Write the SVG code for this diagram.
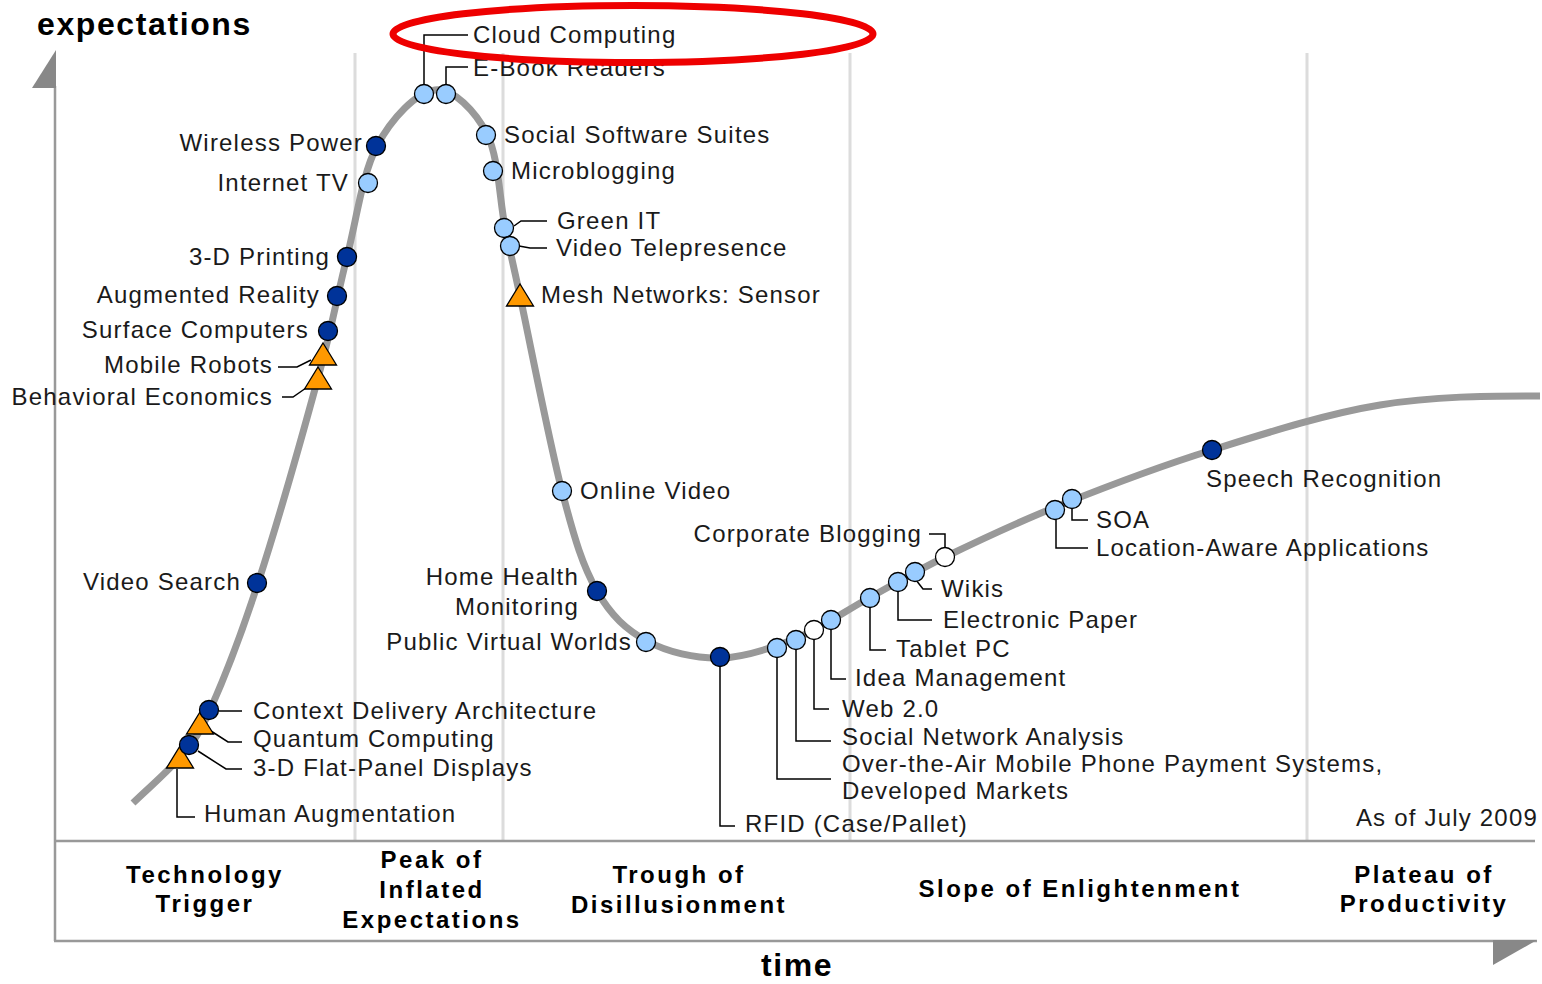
<svg xmlns="http://www.w3.org/2000/svg" xmlns:xlink="http://www.w3.org/1999/xlink" width="1542" height="984" viewBox="0 0 1542 984">
<style>
.lbl{font-family:"Liberation Sans",Arial,sans-serif;font-size:24px;letter-spacing:1.2px;fill:#1a1a1a}
.end{text-anchor:end}
.phase{font-family:"Liberation Sans",Arial,sans-serif;font-weight:bold;font-size:24px;letter-spacing:2.5px;text-anchor:middle;fill:#000}
.axlbl{font-family:"Liberation Sans",Arial,sans-serif;font-weight:bold;font-size:32px;letter-spacing:1.6px;fill:#000}
.dk{fill:#003399;stroke:#000;stroke-width:1.3}
.lt{fill:#99ccff;stroke:#000;stroke-width:1.3}
.wt{fill:#fff;stroke:#000;stroke-width:1.3}
.tri{fill:#ff9900;stroke:#000;stroke-width:1.3}
.ld{fill:none;stroke:#000;stroke-width:1.5}
.grid{stroke:#dcdcdc;stroke-width:3}
.axis{stroke:#999;stroke-width:2.5;fill:none}
</style>
<defs>
<path id="tri" d="M0,-12 L13.5,10 L-13.5,10 Z"/>
</defs>
<rect width="1542" height="984" fill="#fff"/>
<g id="frame">
<line class="grid" x1="355" y1="53" x2="355" y2="840"/>
<line class="grid" x1="503" y1="53" x2="503" y2="840"/>
<line class="grid" x1="850" y1="53" x2="850" y2="840"/>
<line class="grid" x1="1307" y1="53" x2="1307" y2="840"/>
<line class="axis" x1="55" y1="86" x2="55" y2="941"/>
<line class="axis" x1="55" y1="841" x2="1535" y2="841"/>
<line class="axis" x1="54" y1="941" x2="1537" y2="941"/>
<polygon points="32,88 56,50 56,88" fill="#888"/>
<polygon points="1493,940 1537,940 1493,965" fill="#888"/>
<text class="axlbl" x="37" y="35">expectations</text>
<text class="axlbl" x="797" y="976" text-anchor="middle">time</text>
</g>
<g id="phases">
<text class="phase" x="205" y="883">Technology</text>
<text class="phase" x="205" y="912">Trigger</text>
<text class="phase" x="432" y="868">Peak of</text>
<text class="phase" x="432" y="898">Inflated</text>
<text class="phase" x="432" y="928">Expectations</text>
<text class="phase" x="679" y="883">Trough of</text>
<text class="phase" x="679" y="913">Disillusionment</text>
<text class="phase" x="1080" y="897">Slope of Enlightenment</text>
<text class="phase" x="1424" y="883">Plateau of</text>
<text class="phase" x="1424" y="912">Productivity</text>
<text class="lbl end" x="1538" y="826">As of July 2009</text>
</g>
<g id="curve">
<path d="M133,803 C148.7,787.7 167.2,772.5 180,757 C192.8,741.5 197,739 210,710 C223,681 240,638.3 258,583 C276,527.7 303.2,432.3 318,378 C332.8,323.7 337.2,295.7 347,257 C356.8,218.3 362.3,173.8 377,146 C391.7,118.2 416.7,92 435,90 C453.3,88 475.3,111.2 487,134 C498.7,156.8 499.5,200 505,227 C510.5,254 510.5,252 520,296 C529.5,340 549.2,441.8 562,491 C574.8,540.2 582.8,566 597,591 C611.2,616 626.5,629.8 647,641 C667.5,652.2 695,658.5 720,658 C745,657.5 772.2,648 797,638 C821.8,628 844.3,611.5 869,598 C893.7,584.5 912.7,572.7 945,557 C977.3,541.3 1018.5,521.8 1063,504 C1107.5,486.2 1159.2,466.5 1212,450 C1264.8,433.5 1325.3,414 1380,405 C1434.7,396 1486.7,396 1540,396" fill="none" stroke="#999" stroke-width="7" stroke-linecap="butt"/>
</g>
<g id="connectors">
<polyline class="ld" points="424,85 424,35 468,35"/>
<polyline class="ld" points="446,85 446,67 468,67"/>
<polyline class="ld" points="514,226 521,221 547,221"/>
<polyline class="ld" points="519,246 530,248 547,248"/>
<polyline class="ld" points="278,367 297,367 311,360"/>
<polyline class="ld" points="282,397 293,397 306,388"/>
<polyline class="ld" points="219,711 242,711"/>
<polyline class="ld" points="211,731 228,742 242,742"/>
<polyline class="ld" points="198,751 226,769 242,769"/>
<polyline class="ld" points="177,769 177,817 195,817"/>
<polyline class="ld" points="720,667 720,826 735,826"/>
<polyline class="ld" points="777,657 777,779 831,779"/>
<polyline class="ld" points="796,649 796,741 831,741"/>
<polyline class="ld" points="814,639 814,709 829,709"/>
<polyline class="ld" points="831,629 831,679 846,679"/>
<polyline class="ld" points="870,607 870,650 886,650"/>
<polyline class="ld" points="898,591 898,620 932,620"/>
<polyline class="ld" points="916,580 923,589 932,589"/>
<polyline class="ld" points="929,534 945,534 945,548"/>
<polyline class="ld" points="1072,508 1072,520 1088,520"/>
<polyline class="ld" points="1056,519 1056,548 1088,548"/>
</g>
<g id="n-human-augmentation"><use href="#tri" class="tri" x="180" y="758"/><text class="lbl" x="204" y="822">Human Augmentation</text></g>
<g id="n-quantum-computing"><use href="#tri" class="tri" x="200" y="724"/><text class="lbl" x="253" y="747">Quantum Computing</text></g>
<g id="n-behavioral-economics"><use href="#tri" class="tri" x="318" y="379"/><text class="lbl end" x="273" y="405">Behavioral Economics</text></g>
<g id="n-mobile-robots"><use href="#tri" class="tri" x="323" y="355"/><text class="lbl end" x="273" y="373">Mobile Robots</text></g>
<g id="n-mesh-networks"><use href="#tri" class="tri" x="520" y="296"/><text class="lbl" x="541" y="303">Mesh Networks: Sensor</text></g>
<g id="n-3d-flat-panel"><circle class="dk" cx="189" cy="745" r="9.5"/><text class="lbl" x="253" y="776">3-D Flat-Panel Displays</text></g>
<g id="n-context-delivery"><circle class="dk" cx="209" cy="710" r="9.5"/><text class="lbl" x="253" y="719">Context Delivery Architecture</text></g>
<g id="n-video-search"><circle class="dk" cx="257" cy="583" r="9.5"/><text class="lbl end" x="241" y="590">Video Search</text></g>
<g id="n-surface-computers"><circle class="dk" cx="328" cy="331" r="9.5"/><text class="lbl end" x="309" y="338">Surface Computers</text></g>
<g id="n-augmented-reality"><circle class="dk" cx="337" cy="296" r="9.5"/><text class="lbl end" x="320" y="303">Augmented Reality</text></g>
<g id="n-3d-printing"><circle class="dk" cx="347" cy="257" r="9.5"/><text class="lbl end" x="330" y="265">3-D Printing</text></g>
<g id="n-internet-tv"><circle class="lt" cx="368" cy="183" r="9.5"/><text class="lbl end" x="349" y="191">Internet TV</text></g>
<g id="n-wireless-power"><circle class="dk" cx="376" cy="146" r="9.5"/><text class="lbl end" x="363" y="151">Wireless Power</text></g>
<g id="n-cloud-computing"><circle class="lt" cx="424" cy="94" r="9.5"/><text class="lbl" x="473" y="43">Cloud Computing</text></g>
<g id="n-ebook-readers"><circle class="lt" cx="446" cy="94" r="9.5"/><text class="lbl" x="473" y="76">E-Book Readers</text></g>
<g id="n-social-software"><circle class="lt" cx="486" cy="135" r="9.5"/><text class="lbl" x="504" y="143">Social Software Suites</text></g>
<g id="n-microblogging"><circle class="lt" cx="493" cy="171" r="9.5"/><text class="lbl" x="511" y="179">Microblogging</text></g>
<g id="n-green-it"><circle class="lt" cx="504" cy="228" r="9.5"/><text class="lbl" x="557" y="229">Green IT</text></g>
<g id="n-video-telepresence"><circle class="lt" cx="510" cy="246" r="9.5"/><text class="lbl" x="556" y="256">Video Telepresence</text></g>
<g id="n-online-video"><circle class="lt" cx="562" cy="491" r="9.5"/><text class="lbl" x="580" y="499">Online Video</text></g>
<g id="n-home-health"><circle class="dk" cx="597" cy="591" r="9.5"/><text class="lbl end" x="579" y="585">Home Health</text><text class="lbl end" x="579" y="615">Monitoring</text></g>
<g id="n-public-virtual-worlds"><circle class="lt" cx="646" cy="642" r="9.5"/><text class="lbl end" x="632" y="650">Public Virtual Worlds</text></g>
<g id="n-rfid"><circle class="dk" cx="720" cy="657" r="9.5"/><text class="lbl" x="745" y="832">RFID (Case/Pallet)</text></g>
<g id="n-ota-payment"><circle class="lt" cx="777" cy="648" r="9.5"/><text class="lbl" x="842" y="772">Over-the-Air Mobile Phone Payment Systems,</text><text class="lbl" x="842" y="799">Developed Markets</text></g>
<g id="n-social-network-analysis"><circle class="lt" cx="796" cy="640" r="9.5"/><text class="lbl" x="842" y="745">Social Network Analysis</text></g>
<g id="n-web20"><circle class="wt" cx="814" cy="630" r="9.5"/><text class="lbl" x="842" y="717">Web 2.0</text></g>
<g id="n-idea-management"><circle class="lt" cx="831" cy="620" r="9.5"/><text class="lbl" x="855" y="686">Idea Management</text></g>
<g id="n-tablet-pc"><circle class="lt" cx="870" cy="598" r="9.5"/><text class="lbl" x="896" y="657">Tablet PC</text></g>
<g id="n-electronic-paper"><circle class="lt" cx="898" cy="582" r="9.5"/><text class="lbl" x="943" y="628">Electronic Paper</text></g>
<g id="n-wikis"><circle class="lt" cx="915" cy="572" r="9.5"/><text class="lbl" x="941" y="597">Wikis</text></g>
<g id="n-corporate-blogging"><circle class="wt" cx="945" cy="557" r="9.5"/><text class="lbl end" x="922" y="542">Corporate Blogging</text></g>
<g id="n-location-aware"><circle class="lt" cx="1055" cy="510" r="9.5"/><text class="lbl" x="1096" y="556">Location-Aware Applications</text></g>
<g id="n-soa"><circle class="lt" cx="1072" cy="499" r="9.5"/><text class="lbl" x="1096" y="528">SOA</text></g>
<g id="n-speech-recognition"><circle class="dk" cx="1212" cy="450" r="9.5"/><text class="lbl" x="1206" y="487">Speech Recognition</text></g>
<g id="highlight">
<ellipse cx="633" cy="34" rx="240" ry="28.5" fill="none" stroke="#ee0000" stroke-width="7"/>
</g>
</svg>
